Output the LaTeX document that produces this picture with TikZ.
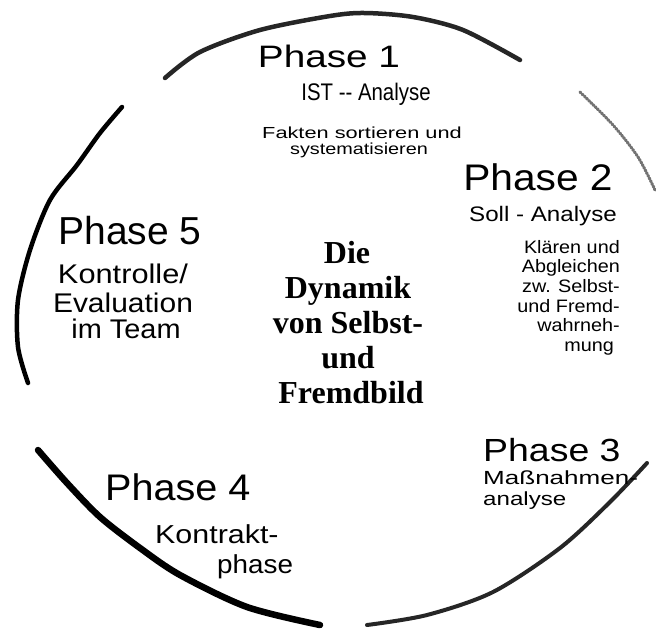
\documentclass[tikz,border=0pt]{standalone}
\usepackage{fontspec}
\usepackage{graphicx}
\newfontfamily\phsans{Liberation Sans}
\newfontfamily\ttlserif{Liberation Serif}
\newcommand\tx[3]{\fontsize{#1}{#1}\selectfont\scalebox{#2}[1]{#3}}
\begin{document}
\begin{tikzpicture}[x=1pt,y=-1pt,
  txt/.style={inner sep=0pt, font=\phsans},
  ttl/.style={inner sep=0pt, font=\ttlserif\bfseries\fontsize{32}{32}\selectfont},
  ring/.style={line cap=round, line join=round, black}]
\useasboundingbox (0,0) rectangle (656,635);

% circle segments
\draw[ring, line width=4.5pt, black!85] plot[smooth] coordinates {(165,78) (200,52) (260,30) (330,16) (365,13) (413,17) (463,30) (520,60)};
\draw[ring, line width=3pt, black!55, dash pattern=on 1.5pt off 1.5pt] plot[smooth] coordinates {(580,92) (613,125) (638,157) (655,190)};
\draw[ring, line width=4.5pt] plot[smooth] coordinates {(122,107) (100,133) (77,165) (50,200) (30,250) (18,300) (18,347) (28,383)};
\draw[ring, line width=6.5pt] plot[smooth] coordinates {(38,450) (67,483) (100,517) (140,548) (180,575) (247,607) (320,625)};
\draw[ring, line width=4pt, black!85] plot[smooth] coordinates {(367,625) (427,615) (493,592) (560,548) (610,502) (647,463)};

% Phase 1
\node[txt, anchor=base] (p1) at (329,67) {\tx{31}{1.25}{Phase 1}};
\node[txt, anchor=base] (p1a) at (366,100) {\tx{24}{0.85}{IST -- Analyse}};
\node[txt, anchor=base] (p1b) at (362,138) {\tx{16}{1.36}{Fakten sortieren und}};
\node[txt, anchor=base] (p1c) at (359,154) {\tx{16}{1.24}{systematisieren}};

% Phase 2
\node[txt, anchor=base] (p2) at (538,190) {\tx{37}{1.1}{Phase 2}};
\node[txt, anchor=base] (p2a) at (543,221) {\tx{21}{1.15}{Soll - Analyse}};
\node[txt, anchor=base east] (p2b) at (620,253) {\tx{18}{1.1}{Klären und}};
\node[txt, anchor=base east] (p2c) at (620,272) {\tx{18}{1.1}{Abgleichen}};
\node[txt, anchor=base east] (p2d) at (620,292) {\tx{18}{1.1}{zw. Selbst-}};
\node[txt, anchor=base east] (p2e) at (620,312) {\tx{18}{1.1}{und Fremd-}};
\node[txt, anchor=base east] (p2f) at (620,331) {\tx{18}{1.1}{wahrneh-}};
\node[txt, anchor=base east] (p2g) at (614,351) {\tx{18}{1.1}{mung}};

% Phase 3
\node[txt, anchor=base west] (p3) at (483,461) {\tx{32}{1.17}{Phase 3}};
\node[txt, anchor=base west] (p3a) at (483,484) {\tx{19}{1.37}{Maßnahmen-}};
\node[txt, anchor=base west] (p3b) at (483,505) {\tx{19}{1.27}{analyse}};

% Phase 4
\node[txt, anchor=base west] (p4) at (105,500) {\tx{37}{1.07}{Phase 4}};
\node[txt, anchor=base west] (p4a) at (155,543) {\tx{26}{1.17}{Kontrakt-}};
\node[txt, anchor=base west] (p4b) at (217,573) {\tx{26}{1.07}{phase}};

% Phase 5
\node[txt, anchor=base] (p5) at (130,244) {\tx{39}{1.0}{Phase 5}};
\node[txt, anchor=base] (p5a) at (123,283) {\tx{27}{1.14}{Kontrolle/}};
\node[txt, anchor=base] (p5b) at (123,312) {\tx{27}{1.11}{Evaluation}};
\node[txt, anchor=base] (p5c) at (126,338) {\tx{27}{1.07}{im Team}};

% centre title
\node[ttl, anchor=base] (t1) at (347,263) {Die};
\node[ttl, anchor=base] (t2) at (348,298) {Dynamik};
\node[ttl, anchor=base] (t3) at (348,333) {von Selbst-};
\node[ttl, anchor=base] (t4) at (348,368) {und};
\node[ttl, anchor=base] (t5) at (351,403) {Fremdbild};
\end{tikzpicture}
\end{document}
